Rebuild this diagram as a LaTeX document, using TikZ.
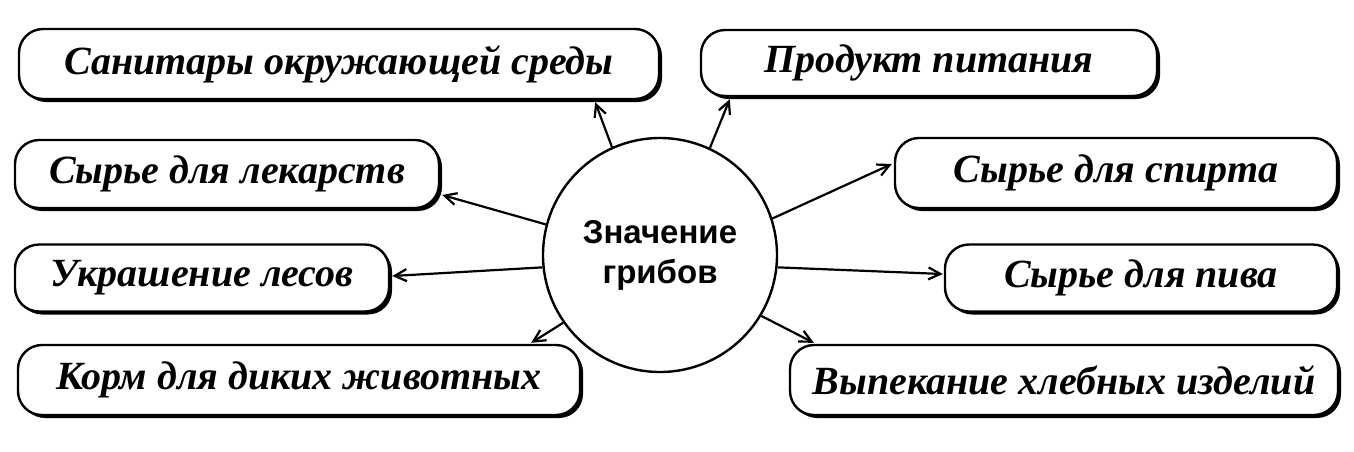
\documentclass[tikz,border=0pt]{standalone}
\usepackage{fontspec}
\setmainfont{Liberation Serif}
\newfontfamily\ctrfont{Liberation Sans}
\usetikzlibrary{arrows.meta,shadows}
\begin{document}
\begin{tikzpicture}[x=1pt,y=-1pt,
  bx/.style={draw,line width=2.4pt,rounded corners=24pt,fill=white,
    drop shadow={shadow xshift=3pt,shadow yshift=-3pt,fill=black,opacity=1},
    font=\fontsize{40}{44}\selectfont\bfseries\itshape,inner sep=0pt},
  ar/.style={-{Straight Barb[length=12pt,width=12pt]},line width=2.2pt}]
\useasboundingbox (0,0) rectangle (1354,451);
\node[draw,circle,line width=2.4pt,minimum size=234pt,align=center,
  font=\fontsize{33}{40}\selectfont\ctrfont\bfseries] (c) at (660,255) {Значение\\грибов};
\node[bx,minimum width=640pt,minimum height=70pt] (b1) at (339,64) {Санитары окружающей среды};
\node[bx,minimum width=456pt,minimum height=66pt] (b2) at (929,63) {Продукт питания};
\node[bx,minimum width=424pt,minimum height=68pt] (b3) at (227,174) {Сырье для лекарств};
\node[bx,minimum width=442pt,minimum height=70pt] (b4) at (1116,173) {Сырье для спирта};
\node[bx,minimum width=374pt,minimum height=67pt] (b5) at (202,278) {Украшение лесов};
\node[bx,minimum width=392pt,minimum height=67pt] (b6) at (1141,278) {Сырье для пива};
\node[bx,minimum width=562pt,minimum height=70pt] (b7) at (299,380) {Корм для диких животных};
\node[bx,minimum width=548pt,minimum height=70pt] (b8) at (1064,380) {Выпекание хлебных изделий};
\draw[ar] (c.114) -- ([xshift=-65pt,yshift=-2pt]b1.south east);
\draw[ar] (c.65) -- ([xshift=30pt,yshift=-2pt]b2.south west);
\draw[ar] (c.165) -- ([xshift=2pt,yshift=-21pt]b3.east);
\draw[ar] (c.18) -- ([xshift=-2pt,yshift=9pt]b4.west);
\draw[ar] (c.186) -- ([xshift=2pt,yshift=2pt]b5.east);
\draw[ar] (c.-6) -- ([xshift=-1pt,yshift=4pt]b6.west);
\draw[ar] (c.215) -- ([xshift=-50pt,yshift=1pt]b7.north east);
\draw[ar] (c.329) -- ([xshift=25pt,yshift=1pt]b8.north west);
\end{tikzpicture}
\end{document}
